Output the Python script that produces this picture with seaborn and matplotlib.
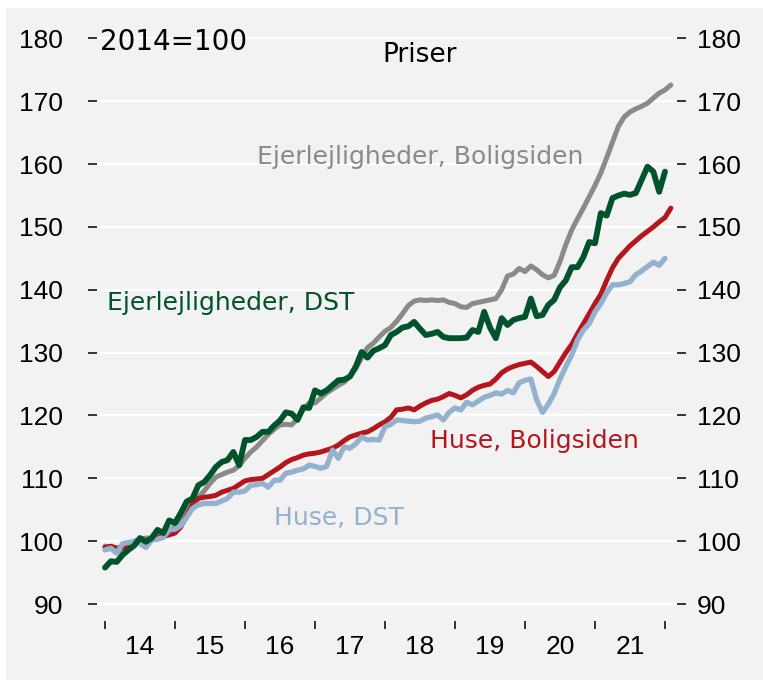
import numpy as np
import pandas as pd
import matplotlib
matplotlib.use('Agg')
import matplotlib.pyplot as plt
import seaborn as sns
from matplotlib.patches import Rectangle

# Monthly index, 2014=100 (Jan 2014 onwards)
ejer_boligsiden = [
    99.2, 98.9, 98.2, 98.8, 99.5, 100.0, 100.3, 100.5, 100.5, 100.8, 101.3, 101.8,
    102.3, 103.5, 105.0, 106.2, 107.0, 108.0, 109.2, 110.2, 110.6, 111.0, 111.3, 112.0,
    113.2, 114.2, 115.0, 116.0, 117.0, 117.8, 118.5, 118.6, 118.5, 119.5, 121.0, 122.0,
    122.0, 122.8, 123.6, 124.2, 124.8, 125.3, 126.3, 127.5, 129.2, 130.8, 131.5, 132.5,
    133.4, 134.0, 135.0, 136.2, 137.5, 138.2, 138.4, 138.3, 138.4, 138.3, 138.4, 138.0,
    137.8, 137.3, 137.2, 137.8, 138.0, 138.2, 138.4, 138.6, 140.0, 142.2, 142.5, 143.4,
    142.9, 143.8, 143.2, 142.4, 141.9, 142.3, 144.5, 147.2, 149.5, 151.3, 153.0, 154.8,
    156.6, 158.6, 161.0, 163.5, 166.0, 167.5, 168.3, 168.8, 169.2, 169.7, 170.5, 171.3,
    171.8, 172.6,
]
ejer_dst = [
    95.8, 96.8, 96.7, 97.8, 98.6, 99.3, 100.5, 99.9, 100.5, 101.8, 101.3, 103.3,
    102.9, 104.5, 106.3, 106.8, 108.9, 109.4, 110.5, 111.8, 112.6, 112.9, 114.2, 112.1,
    116.1, 116.1, 116.6, 117.4, 117.4, 118.4, 119.2, 120.5, 120.3, 119.3, 121.3, 121.2,
    124.0, 123.5, 124.0, 124.8, 125.6, 125.7, 126.2, 127.8, 130.1, 129.2, 130.3, 130.7,
    131.2, 132.8, 133.3, 134.0, 134.2, 134.9, 133.8, 132.8, 133.0, 133.3, 132.5, 132.3,
    132.3, 132.3, 132.4, 133.6, 133.3, 136.5, 134.0, 132.3, 135.5, 134.4, 135.2, 135.5,
    135.7, 138.6, 135.8, 136.0, 137.6, 138.4, 140.4, 141.5, 143.6, 143.6, 145.2, 147.6,
    147.4, 152.2, 151.8, 154.6, 155.0, 155.3, 155.1, 155.4, 157.5, 159.6, 158.8, 155.6,
    158.8,
]
huse_boligsiden = [
    99.0, 99.2, 98.9, 99.0, 99.4, 99.8, 100.0, 100.1, 100.2, 100.5, 100.8, 101.0,
    101.3, 102.3, 104.0, 105.8, 106.8, 107.0, 107.1, 107.3, 107.8, 108.1, 108.4, 109.0,
    109.6, 109.8, 109.9, 110.0, 110.6, 111.2, 111.8, 112.5, 113.0, 113.3, 113.7, 113.9,
    114.0, 114.2, 114.5, 114.8, 115.3, 116.0, 116.6, 116.9, 117.2, 117.4, 117.9, 118.5,
    119.0, 119.7, 120.9, 121.0, 121.2, 120.9, 121.5, 122.0, 122.4, 122.6, 123.0, 123.5,
    123.2, 122.8, 123.3, 124.0, 124.5, 124.8, 125.0, 125.8, 126.8, 127.4, 127.8, 128.1,
    128.3, 128.5, 127.8, 127.0, 126.2, 127.0, 128.5, 130.0, 131.3, 133.0, 134.6, 136.2,
    137.8, 139.3, 141.5, 143.5, 145.0, 146.0, 147.0, 147.8, 148.6, 149.3, 150.0, 150.8,
    151.5, 153.0,
]
huse_dst = [
    98.6, 98.9, 98.1, 99.6, 99.8, 99.9, 99.6, 99.0, 100.2, 100.3, 100.6, 101.8,
    101.9, 102.5, 103.8, 105.2, 105.8, 106.0, 106.0, 106.0, 106.4, 106.8, 107.8, 107.8,
    108.0, 108.9, 109.0, 109.2, 108.6, 109.7, 109.7, 110.8, 111.0, 111.3, 111.5, 112.1,
    111.9, 111.6, 111.9, 114.5, 113.2, 115.0, 114.8, 115.5, 116.6, 116.1, 116.2, 116.1,
    118.2, 118.6, 119.3, 119.2, 119.1, 119.0, 119.1, 119.6, 119.8, 120.1, 119.3, 120.5,
    121.2, 120.9, 122.1, 121.7, 122.3, 122.9, 123.2, 123.6, 123.4, 124.0, 123.6, 125.2,
    125.6, 125.8, 122.5, 120.5, 121.8, 123.5, 125.8, 127.8, 129.6, 132.0, 133.6, 134.6,
    136.5, 137.8, 139.5, 140.8, 140.8, 141.0, 141.3, 142.4, 143.0, 143.7, 144.4, 143.9,
    145.0,
]

years = [14, 15, 16, 17, 18, 19, 20, 21]
yticks = [90, 100, 110, 120, 130, 140, 150, 160, 170, 180]

series = [
    ('Ejerlejligheder, Boligsiden', ejer_boligsiden, '#8a8a8a', 3.6),
    ('Huse, Boligsiden', huse_boligsiden, '#b5161e', 3.6),
    ('Huse, DST', huse_dst, '#94b1ce', 3.8),
    ('Ejerlejligheder, DST', ejer_dst, '#00532a', 4.2),
]

sns.set_style('white', {'axes.facecolor': '#f2f2f2', 'text.color': 'black',
                        'xtick.color': 'black', 'ytick.color': 'black'})
plt.rcParams['font.family'] = ['Liberation Sans', 'DejaVu Sans']

fig = plt.figure(figsize=(7.63, 6.8), dpi=100)
fig.patch.set_facecolor('white')
fig.patches.append(Rectangle((6 / 763, 0), 1, 1 - 8 / 680, transform=fig.transFigure,
                             facecolor='#f2f2f2', edgecolor='none', zorder=-10))
ax = fig.add_axes([97 / 763, 59 / 680, 580 / 763, (621 - 29) / 680])
ax.set_facecolor('#f2f2f2')

for name, vals, col, lw in series:
    x = 2014 + np.arange(len(vals)) / 12
    df = pd.DataFrame({'x': x, 'y': vals})
    sns.lineplot(data=df, x='x', y='y', color=col, linewidth=lw, ax=ax)

ax.set_xlim(2014 - 8 / 70, 2022 + 12 / 70)
ax.set_ylim(87.3, 181.5)
for s in ax.spines.values():
    s.set_visible(False)

# left y axis
ax.set_yticks(yticks)
ax.yaxis.grid(True, color='white', linewidth=1.6)
ax.set_axisbelow(True)
ax.tick_params(axis='y', direction='out', length=6.5, width=1.1, labelsize=19,
               left=True, labelleft=True, pad=18, colors='black')

# right y axis
sec = ax.secondary_yaxis('right')
sec.set_yticks(yticks)
for s in sec.spines.values():
    s.set_visible(False)
sec.tick_params(axis='y', direction='out', length=6.5, width=1.1, labelsize=19,
                pad=8, colors='black')

# x axis: ticks at year boundaries, labels in the middle of each year
ax.set_xticks([2014 + i for i in range(9)])
ax.set_xticks([2014.5 + i for i in range(8)], minor=True)
ax.set_xticklabels([])
ax.set_xticklabels([str(y) for y in years], minor=True)
ax.tick_params(axis='x', which='major', direction='out', length=6, width=1.1,
               bottom=True, colors='black')
ax.tick_params(axis='x', which='minor', length=0, labelsize=19, pad=10, colors='black')
ax.set_xlabel('')
ax.set_ylabel('')

lab_font = ['DejaVu Sans']
ax.text(2013.93, 179.4, '2014=100', fontsize=20, family=lab_font, ha='left', va='center')
ax.text(2018.5, 177.4, 'Priser', fontsize=19, family=lab_font, ha='center', va='center')
ax.text(2018.5, 161.1, 'Ejerlejligheder, Boligsiden', fontsize=18, family=lab_font,
        color='#8a8a8a', ha='center', va='center')
ax.text(2015.8, 137.9, 'Ejerlejligheder, DST', fontsize=18, family=lab_font,
        color='#00532a', ha='center', va='center')
ax.text(2020.14, 115.9, 'Huse, Boligsiden', fontsize=18, family=lab_font,
        color='#b5161e', ha='center', va='center')
ax.text(2017.34, 103.7, 'Huse, DST', fontsize=18, family=lab_font,
        color='#94b1ce', ha='center', va='center')

fig.savefig('out.png', dpi=100, facecolor=fig.get_facecolor())
